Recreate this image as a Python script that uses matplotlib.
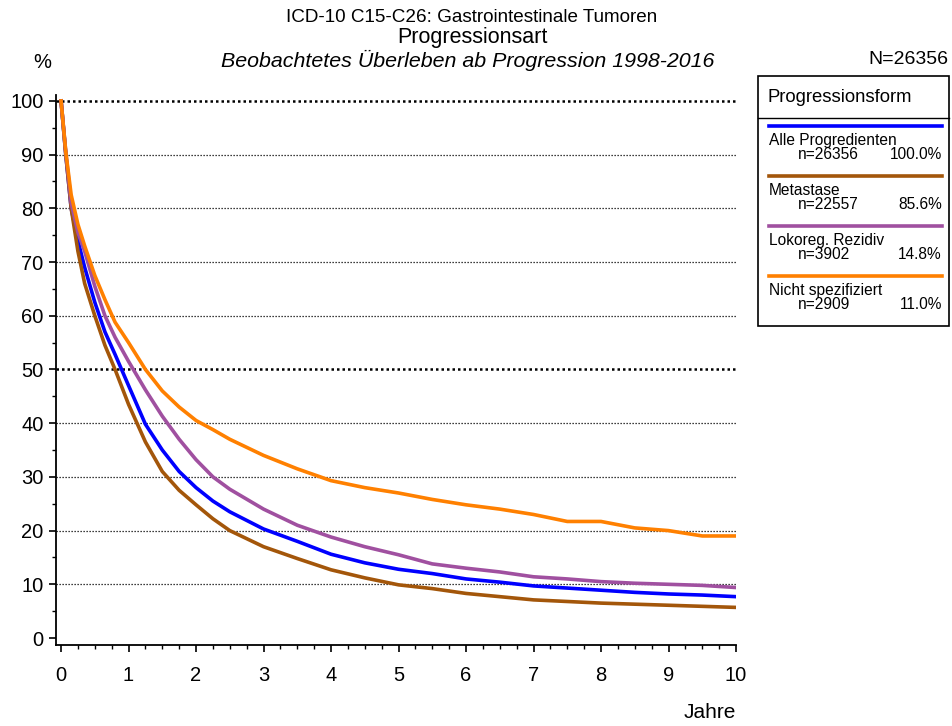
import matplotlib
matplotlib.use("Agg")
import matplotlib.pyplot as plt
from matplotlib.lines import Line2D
from matplotlib.patches import Rectangle

plt.rcParams['font.family'] = ['Liberation Sans', 'DejaVu Sans']

# survival (%), by year since progression
jahre = [0, 0.07, 0.15, 0.25, 0.35, 0.5, 0.65, 0.8, 1, 1.25, 1.5, 1.75, 2, 2.25,
         2.5, 3, 3.5, 4, 4.5, 5, 5.5, 6, 6.5, 7, 7.5, 8, 8.5, 9, 9.5, 10]
alle = [100, 90, 80, 74, 69, 62.5, 57, 52.8, 47, 39.8, 35, 31, 28, 25.5,
        23.5, 20.3, 18, 15.6, 14, 12.8, 12, 11, 10.4, 9.7, 9.3, 8.9, 8.5, 8.2, 8.0, 7.7]
metastase = [100, 90, 80, 72, 66, 60, 54.5, 50, 43.5, 36.5, 31, 27.5, 24.8, 22.2,
             20, 17, 14.8, 12.7, 11.2, 9.9, 9.2, 8.3, 7.7, 7.1, 6.8, 6.5, 6.3, 6.1, 5.9, 5.7]
rezidiv = [100, 90.5, 81, 75.5, 72, 65.5, 60, 56, 51.5, 46.2, 41.3, 37, 33.2, 30,
           27.7, 24, 21, 18.8, 17, 15.5, 13.8, 13, 12.3, 11.4, 11, 10.5, 10.2, 10, 9.8, 9.4]
nicht_spez = [100, 90.5, 82.5, 77, 73, 67.5, 63, 58.8, 55, 50, 46, 43, 40.5, 38.8,
              37, 34, 31.5, 29.3, 28, 27, 25.8, 24.8, 24, 23, 21.7, 21.7, 20.5, 20, 19, 19]

labels = ["Alle Progredienten", "Metastase", "Lokoreg. Rezidiv", "Nicht spezifiziert"]
n_counts = ["n=26356", "n=22557", "n=3902", "n=2909"]
anteile = ["100.0%", "85.6%", "14.8%", "11.0%"]
farben = ["#0000ff", "#a3560a", "#a050a0", "#ff8000"]

W, H = 953, 726
fig = plt.figure(figsize=(W / 100, H / 100), dpi=100)

def fx(px):
    return px / W

def fy(py):
    return 1 - py / H

ax = fig.add_axes([fx(56), fy(645), (736 - 56) / W, (645 - 95) / H])
ax.set_xlim(-0.075, 10)
ax.set_ylim(-1.3, 101.1)

# dotted gridlines, 50 and 100 bolder
for g in range(10, 101, 10):
    bold = g in (50, 100)
    ax.axhline(g, color='k', lw=1.8 if bold else 0.9,
               dashes=(1, 1.2) if bold else (1, 1.4), zorder=1)

for ys, c in zip([alle, metastase, rezidiv, nicht_spez], farben):
    ax.plot(jahre, ys, color=c, lw=2.6, zorder=3, solid_joinstyle='round')

for s in ['top', 'right']:
    ax.spines[s].set_visible(False)
for s in ['left', 'bottom']:
    ax.spines[s].set_linewidth(1.3)

ax.set_xticks(range(0, 11))
ax.set_xticks([i * 0.25 for i in range(41)], minor=True)
ax.set_yticks(range(0, 101, 10))
ax.set_yticks(range(5, 100, 10), minor=True)
ax.tick_params(which='major', length=5, width=1.2, labelsize=14.5, pad=4)
ax.tick_params(axis='x', which='major', pad=10)
ax.tick_params(which='minor', length=3, width=1.0)

# titles
fig.text(fx(472), fy(17), "ICD-10 C15-C26: Gastrointestinale Tumoren",
         ha='center', va='center', fontsize=13.6)
fig.text(fx(472), fy(38), "Progressionsart", ha='center', va='center', fontsize=15.5)
fig.text(fx(468), fy(60), "Beobachtetes Überleben ab Progression 1998-2016",
         ha='center', va='center', fontsize=15.4, style='italic')
fig.text(fx(42), fy(62), "%", ha='center', va='center', fontsize=14.5)
fig.text(fx(948), fy(60), "N=26356", ha='right', va='center', fontsize=14)
fig.text(fx(736), fy(713), "Jahre", ha='right', va='center', fontsize=15)

# legend box
fig.patches.append(Rectangle((fx(758), fy(326)), (949 - 758) / W, (326 - 76) / H,
                             transform=fig.transFigure, fill=False, ec='k', lw=1.2))
fig.lines.append(Line2D([fx(758), fx(949)], [fy(118), fy(118)],
                        transform=fig.transFigure, color='k', lw=1.0))
fig.text(fx(768), fy(97), "Progressionsform", ha='left', va='center', fontsize=13.3)
for i, (lab, n, p, c) in enumerate(zip(labels, n_counts, anteile, farben)):
    y0 = 126 + 50 * i
    fig.lines.append(Line2D([fx(769), fx(942)], [fy(y0), fy(y0)],
                            transform=fig.transFigure, color=c, lw=2.6))
    fig.text(fx(769), fy(y0 + 19), lab, ha='left', va='baseline', fontsize=11.2)
    fig.text(fx(798), fy(y0 + 33), n, ha='left', va='baseline', fontsize=11.2)
    fig.text(fx(942), fy(y0 + 33), p, ha='right', va='baseline', fontsize=11.2)

fig.savefig("out.png", dpi=100)
